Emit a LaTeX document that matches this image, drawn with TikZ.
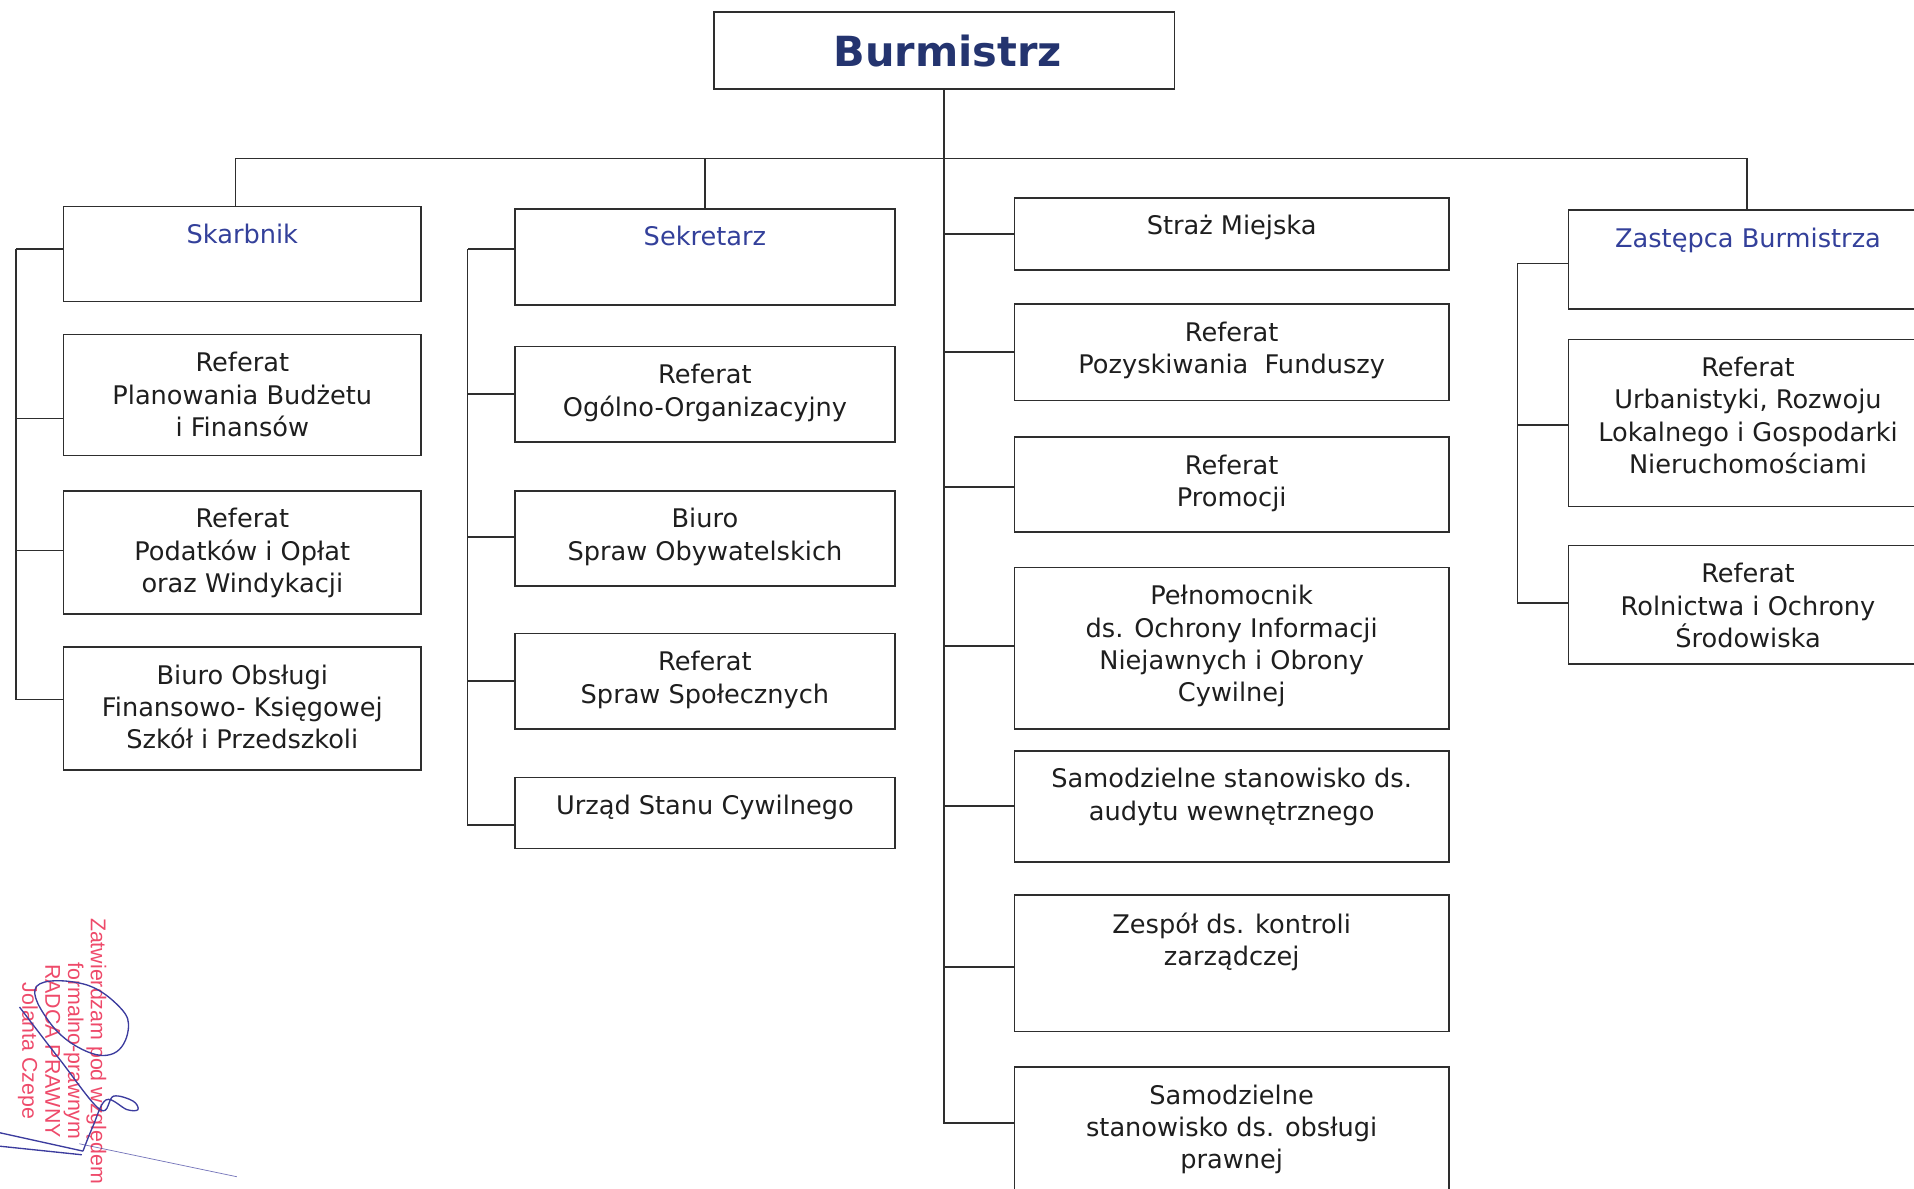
\documentclass[tikz,border=0pt]{standalone}
\usepackage{fontspec}
\setmainfont{DejaVu Sans}
\newfontfamily\stampfont{Liberation Sans}
\definecolor{linec}{HTML}{2E2E2E}
\definecolor{textc}{HTML}{1E1E1E}
\definecolor{hdrc}{HTML}{33409A}
\definecolor{burmc}{HTML}{24346F}
\definecolor{stampc}{HTML}{EE4A6A}
\definecolor{sigc}{HTML}{3C3C9E}
\newcommand\bx[5]{\node[box, minimum width={#4-#2}, minimum height={#5-#3}] (#1) at ({(#2+#4)/2},{(#3+#5)/2}) {};}
\newcommand\bt[3][txt]{\node[#1, anchor=north] (#2-t) at ([yshift=-15pt]#2.north) {#3};}
\begin{document}
\begin{tikzpicture}[x=1pt,y=-1pt,
  box/.style={draw=linec, line width=1.3pt, inner sep=0pt},
  txt/.style={align=center, inner sep=0pt, font=\fontsize{21}{26.5}\selectfont, text=textc},
  hdr/.style={txt, text=hdrc},
  conn/.style={draw=linec, line width=1.3pt},
  stamp/.style={align=center, inner sep=0pt, text=stampc, font=\stampfont\fontsize{17.5}{18.7}\selectfont},
  sig/.style={draw=sigc, line width=1.1pt}]
\useasboundingbox (0,0) rectangle (1568,974);
\clip (0,0) rectangle (1568,974);

% top
\bx{burm}{585}{10}{962}{73}
\node[inner sep=0pt, text=burmc, font=\bfseries\fontsize{34}{40}\selectfont] (burm-t) at ([xshift=3pt]burm) {Burmistrz};

% left column
\bx{skarb}{52}{169}{345}{247}
\bt[hdr]{skarb}{Skarbnik}
\bx{plan}{52}{274}{345}{373}
\bt{plan}{Referat\\Planowania Budżetu\\i Finansów}
\bx{pod}{52}{402}{345}{503}
\bt{pod}{Referat\\Podatków i Opłat\\oraz Windykacji}
\bx{bob}{52}{530}{345}{631}
\bt{bob}{Biuro Obsługi\\Finansowo- Księgowej\\Szkół i Przedszkoli}

% second column
\bx{sek}{422}{171}{733}{250}
\bt[hdr]{sek}{Sekretarz}
\bx{org}{422}{284}{733}{362}
\bt{org}{Referat\\Ogólno-Organizacyjny}
\bx{bso}{422}{402}{733}{480}
\bt{bso}{Biuro\\Spraw Obywatelskich}
\bx{ss}{422}{519}{733}{597}
\bt{ss}{Referat\\Spraw Społecznych}
\bx{usc}{422}{637}{733}{695}
\bt{usc}{Urząd Stanu Cywilnego}

% central column
\bx{sm}{831}{162}{1187}{221}
\bt{sm}{Straż Miejska}
\bx{pf}{831}{249}{1187}{328}
\bt{pf}{Referat\\Pozyskiwania~~Funduszy}
\bx{prom}{831}{358}{1187}{436}
\bt{prom}{Referat\\Promocji}
\bx{peln}{831}{465}{1187}{597}
\bt{peln}{Pełnomocnik\\ds. Ochrony Informacji\\Niejawnych i Obrony\\Cywilnej}
\bx{aud}{831}{615}{1187}{706}
\bt{aud}{Samodzielne stanowisko ds.\\audytu wewnętrznego}
\bx{zesp}{831}{733}{1187}{845}
\bt{zesp}{Zespół ds. kontroli\\zarządczej}
\bx{praw}{831}{874}{1187}{1000}
\bt{praw}{Samodzielne\\stanowisko ds. obsługi\\prawnej}

% right column
\bx{zast}{1285}{172}{1579}{253}
\bt[hdr]{zast}{Zastępca Burmistrza}
\bx{urb}{1285}{278}{1579}{415}
\bt{urb}{Referat\\Urbanistyki, Rozwoju\\Lokalnego i Gospodarki\\Nieruchomościami}
\bx{rol}{1285}{447}{1579}{544}
\bt{rol}{Referat\\Rolnictwa i Ochrony\\Środowiska}

% connectors
\coordinate (busL) at (193,130);
\coordinate (busR) at (1431,130);
\coordinate (LT) at (13,204);
\coordinate (ST) at (383,204);
\coordinate (RT) at (1243,216);

\draw[conn] (skarb.north -| busL) -- (busL) -- (busR) -- (busR |- zast.north);
\draw[conn] (sek.north) -- (sek.north |- busL);

\draw[conn] ([yshift=4pt]skarb.west) -| (LT);
\draw[conn] ([yshift=-19.5pt]plan.west) -| (LT);
\draw[conn] ([yshift=1.5pt]pod.west) -| (LT);
\draw[conn] ([yshift=7.5pt]bob.west) -| (LT);

\draw[conn] ([yshift=6.5pt]sek.west) -| (ST);
\draw[conn] (org.west) -| (ST);
\draw[conn] ([yshift=1pt]bso.west) -| (ST);
\draw[conn] (ss.west) -| (ST);
\draw[conn] ([yshift=-10pt]usc.west) -| (ST);

\draw[conn] (sm.west) -| (burm.south);
\draw[conn] (pf.west) -| (burm.south);
\draw[conn] ([yshift=-2pt]prom.west) -| (burm.south);
\draw[conn] ([yshift=2pt]peln.west) -| (burm.south);
\draw[conn] (aud.west) -| (burm.south);
\draw[conn] ([yshift=-3pt]zesp.west) -| (burm.south);
\draw[conn] ([yshift=17pt]praw.west) -| (burm.south);

\draw[conn] ([yshift=-3.5pt]zast.west) -| (RT);
\draw[conn] ([yshift=-1.5pt]urb.west) -| (RT);
\draw[conn] ([yshift=1.5pt]rol.west) -| (RT);

% stamp
\node[stamp, rotate=-90] (stamp) at (51,861) {Zatwierdzam pod względem\\formalno-prawnym\\RADCA PRAWNY\\Jolanta Czepe};

% signature
\draw[sig] plot[smooth cycle, tension=0.7] coordinates {(30,808) (68,806) (98,825) (105,844) (93,863) (68,860) (41,838)};
\draw[sig] plot[smooth, tension=0.6] coordinates {(16,825) (49,868) (82,909) (93,898) (109,902) (113,909) (104,909) (87,901) (76,923) (68,943)};
\draw[sig] (0,928) -- (68,943);
\draw[sig] (0,939) -- (67,946);
\draw[sig, line width=0.6pt, opacity=0.7] (65,937) -- (194,964);
\end{tikzpicture}
\end{document}
